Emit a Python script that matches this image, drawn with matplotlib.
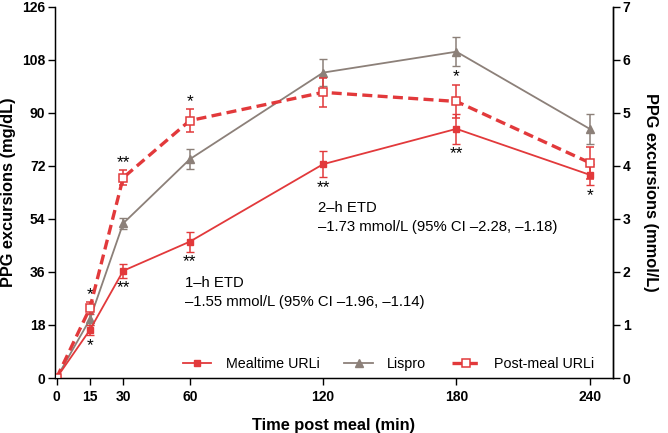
import matplotlib
matplotlib.use('Agg')
import matplotlib.pyplot as plt
from matplotlib.lines import Line2D
import numpy as np

plt.rcParams['font.family'] = ['Liberation Sans', 'DejaVu Sans']

time_min = [0, 15, 30, 60, 120, 180, 240]

mealtime = [0, 16.3, 36.4, 46.3, 72.6, 84.6, 69.0]
mealtime_err = [0, 1.8, 2.3, 3.4, 4.5, 5.0, 3.5]

lispro = [0, 19.9, 52.5, 74.3, 103.7, 110.8, 84.6]
lispro_err = [0, 1.8, 2.0, 3.4, 4.5, 5.0, 5.2]

postmeal = [0, 23.7, 68.0, 87.4, 97.0, 93.9, 73.1]
postmeal_err = [0, 2.0, 2.5, 3.8, 5.0, 5.7, 5.5]

# significance marks: (time, text, series, side)
stars = [
    (15, '*', 'post', 'above'), (15, '*', 'meal', 'below'),
    (30, '**', 'post', 'above'), (30, '**', 'meal', 'below'),
    (60, '*', 'post', 'above'), (60, '**', 'meal', 'below'),
    (120, '**', 'meal', 'below'),
    (180, '*', 'lispro', 'below'), (180, '**', 'meal', 'below'),
    (240, '*', 'meal', 'below'),
]

red = '#e2393b'
grey = '#8c8079'
post_dash = (0, (3, 1.6))

fig = plt.figure(figsize=(6.68, 4.33), dpi=100)
ax = fig.add_axes([0.0823, 0.127, 0.8354, 0.857])

ax.errorbar(time_min, mealtime, yerr=mealtime_err, color=red, lw=1.3,
            marker='s', ms=4.5, mfc=red, mec=red, capsize=3, elinewidth=1.1, zorder=3)
ax.errorbar(time_min, lispro, yerr=lispro_err, color=grey, lw=1.3,
            marker='^', ms=6, mfc=grey, mec=grey, capsize=3, elinewidth=1.1, zorder=2)
ax.errorbar(time_min, postmeal, yerr=postmeal_err, color=red, lw=2.4, ls=post_dash,
            marker='s', ms=5.5, mfc='white', mec=red, mew=1.1, capsize=3, elinewidth=1.1,
            zorder=4)

series = {'meal': (mealtime, mealtime_err), 'lispro': (lispro, lispro_err),
          'post': (postmeal, postmeal_err)}
for t, txt, key, side in stars:
    vals, errs = series[key]
    i = time_min.index(t)
    if side == 'above':
        ax.annotate(txt, (t, vals[i] + errs[i]), xytext=(0, 0), textcoords='offset points',
                    ha='center', va='bottom', fontsize=12.5)
    else:
        ax.annotate(txt, (t, vals[i] - errs[i]), xytext=(0, -2), textcoords='offset points',
                    ha='center', va='top', fontsize=12.5)

ax.text(57.8, 34.6, '1\u2013h ETD\n\u20131.55 mmol/L (95% CI \u20131.96, \u20131.14)',
        fontsize=10.7, linespacing=1.45, va='top', ha='left')
ax.text(117.7, 60.2, '2\u2013h ETD\n\u20131.73 mmol/L (95% CI \u20132.28, \u20131.18)',
        fontsize=10.7, linespacing=1.45, va='top', ha='left')

ax.set_xlim(-0.7, 250.5)
ax.set_ylim(0, 126)
ax.set_xticks(time_min)
ax.set_yticks(np.arange(0, 127, 18))
ax.spines['top'].set_visible(False)
for s in ['left', 'right', 'bottom']:
    ax.spines[s].set_linewidth(1.0)
ax.tick_params(direction='out', length=5, width=1.0, labelsize=10)
ax.tick_params(axis='y', pad=2)
for lbl in ax.get_xticklabels() + ax.get_yticklabels():
    lbl.set_fontweight('bold')
ax.set_xlabel('Time post meal (min)', fontsize=11.8, fontweight='bold', labelpad=10)
ax.set_ylabel('PPG excursions (mg/dL)', fontsize=11.8, fontweight='bold', labelpad=4)

ax2 = ax.twinx()
ax2.set_ylim(0, 7)
ax2.set_yticks(range(0, 8))
ax2.spines['top'].set_visible(False)
ax2.spines['right'].set_linewidth(1.0)
ax2.tick_params(direction='out', length=5, width=1.0, labelsize=10, pad=2)
for lbl in ax2.get_yticklabels():
    lbl.set_fontweight('bold')
ax2.set_ylabel('PPG excursions (mmol/L)', fontsize=11.8, fontweight='bold',
               rotation=270, labelpad=20)

handles = [
    Line2D([], [], color=red, lw=1.3, marker='s', ms=4.5),
    Line2D([], [], color=grey, lw=1.3, marker='^', ms=6),
    Line2D([], [], color=red, lw=2.4, ls=post_dash, marker='s', ms=5.5, mfc='white', mew=1.1),
]
labels = ['Mealtime URLi', 'Lispro', 'Post-meal URLi']
ax.legend(handles, labels, loc='lower right', ncol=3, frameon=False, fontsize=10.3,
          handlelength=2.0, columnspacing=1.75, handletextpad=1.0,
          bbox_to_anchor=(0.99, -0.015))

fig.savefig('out.png', dpi=100)
